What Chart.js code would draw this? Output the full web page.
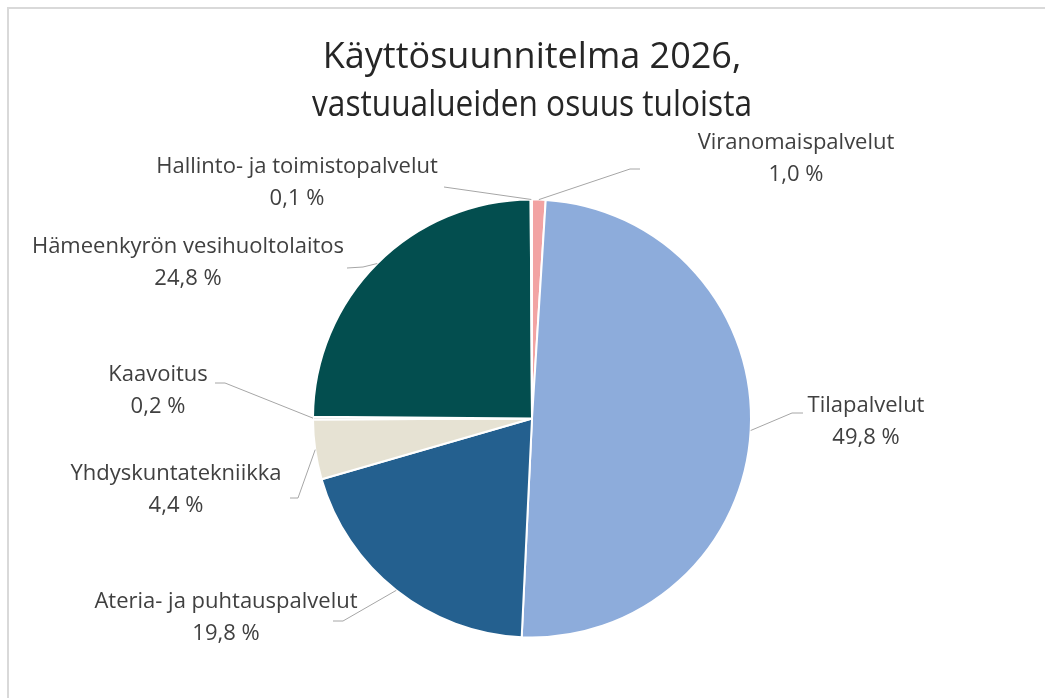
<!DOCTYPE html>
<html>
<head>
<meta charset="utf-8">
<script src="https://cdn.jsdelivr.net/npm/chart.js@4.4.1/dist/chart.umd.min.js"></script>
<style>
  html, body { margin: 0; padding: 0; background: #fff; }
  #wrap { width: 1045px; height: 698px; }
</style>
</head>
<body>
<div id="wrap"><canvas id="myChart"></canvas></div>
<script>
// chart data
var categories = [
    "Viranomaispalvelut",
    "Tilapalvelut",
    "Ateria- ja puhtauspalvelut",
    "Yhdyskuntatekniikka",
    "Kaavoitus",
    "Hämeenkyrön vesihuoltolaitos",
    "Hallinto- ja toimistopalvelut",
];
var shares = [1.0, 49.8, 19.8, 4.4, 0.2, 24.8, 0.1];
var sliceColors = ["#F2A3A3", "#8DACDB", "#24608F", "#E6E2D3", "#D9D9D9", "#034E4F", "#5B9BD5"];
var titleLines = ["Käyttösuunnitelma 2026,", "vastuualueiden osuus tuloista"];

// label placement: text block centre and the elbow of the leader line
var labelLayout = [
    { x: 796, y: 159, elbow: [[640, 169], [630, 169]] },
    { x: 866, y: 422, elbow: [[803, 413], [792, 413]] },
    { x: 226, y: 618, elbow: [[333, 621], [343, 621]] },
    { x: 176, y: 490, elbow: [[290, 498], [298, 498]] },
    { x: 158, y: 391, elbow: [[215, 383], [225, 383]] },
    { x: 188, y: 263, elbow: [[347, 268], [363, 267]] },
    { x: 297, y: 183, elbow: [[444, 187], [444, 187]] },
];

function fmtPct(v) {
    return v.toFixed(1).replace(".", ",") + " %";
}

var frame = {
    id: "frame",
    beforeDraw: function (chart) {
        var ctx = chart.ctx;
        ctx.save();
        ctx.strokeStyle = "#d9d9d9";
        ctx.lineWidth = 2;
        ctx.beginPath();
        ctx.moveTo(8, 698);
        ctx.lineTo(8, 8);
        ctx.lineTo(1045, 8);
        ctx.stroke();
        ctx.restore();
    },
};

var pieLabels = {
    id: "pieLabels",
    afterDatasetsDraw: function (chart) {
        var ctx = chart.ctx;
        var meta = chart.getDatasetMeta(0);
        ctx.save();
        meta.data.forEach(function (arc, i) {
            var p = arc.getProps(["x", "y", "startAngle", "endAngle", "outerRadius"], true);
            var mid = (p.startAngle + p.endAngle) / 2;
            var ex = p.x + Math.cos(mid) * p.outerRadius;
            var ey = p.y + Math.sin(mid) * p.outerRadius;
            var lay = labelLayout[i];
            ctx.strokeStyle = "#a6a6a6";
            ctx.lineWidth = 1;
            ctx.beginPath();
            ctx.moveTo(lay.elbow[0][0], lay.elbow[0][1]);
            ctx.lineTo(lay.elbow[1][0], lay.elbow[1][1]);
            ctx.lineTo(ex, ey);
            ctx.stroke();

            ctx.fillStyle = "#404040";
            ctx.font = "22px 'Open Sans'";
            ctx.textAlign = "center";
            ctx.textBaseline = "middle";
            ctx.fillText(categories[i], lay.x, lay.y - 16);
            ctx.fillText(fmtPct(shares[i]), lay.x, lay.y + 16);
        });
        ctx.restore();
    },
};

var config = {
    type: "pie",
    data: {
        labels: categories,
        datasets: [
            {
                data: shares,
                backgroundColor: sliceColors,
                borderColor: "#ffffff",
                borderWidth: 2,
            },
        ],
    },
    options: {
        responsive: true,
        maintainAspectRatio: false,
        animation: false,
        layout: {
            padding: { top: 34, left: 312, right: 293, bottom: 58 },
        },
        plugins: {
            legend: { display: false },
            tooltip: { enabled: false },
            title: {
                display: true,
                text: titleLines,
                color: "#262626",
                font: { family: "'Open Sans'", size: 36, weight: "normal", lineHeight: 1.333 },
                padding: { top: 0, bottom: 67 },
            },
        },
    },
    plugins: [frame, pieLabels],
};

var ctx = document.getElementById("myChart");
window.myPie = new Chart(ctx, config);
</script>
</body>
</html>
